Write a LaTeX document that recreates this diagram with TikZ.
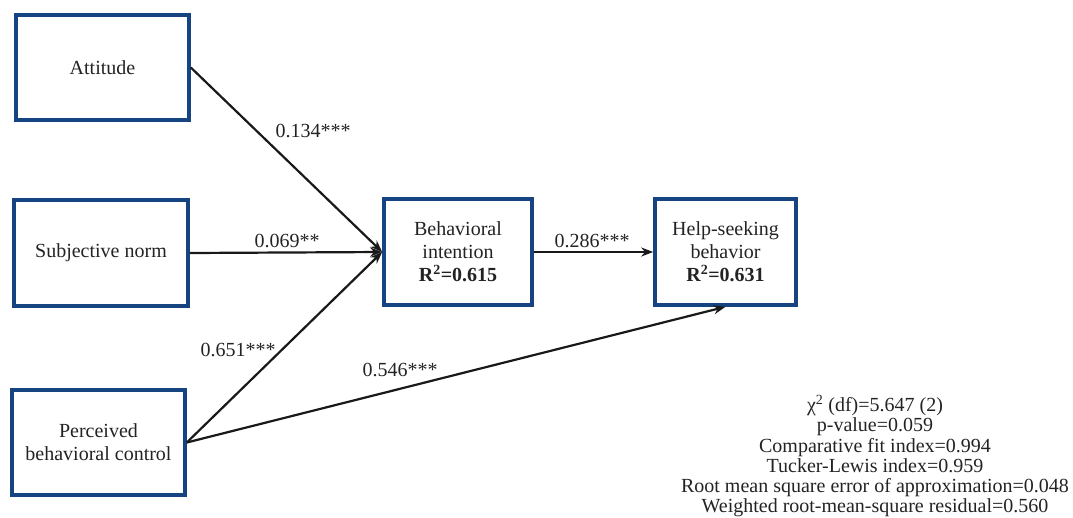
\documentclass[tikz,border=0pt]{standalone}
\usepackage{fontspec}
\setmainfont{Liberation Serif}
\usetikzlibrary{arrows.meta}
\definecolor{boxblue}{RGB}{22,68,128}
\definecolor{txt}{RGB}{35,35,35}
\begin{document}
\begin{tikzpicture}[x=1pt,y=-1pt,
  box/.style={draw=boxblue,line width=3.6pt,fill=white,align=center,inner sep=2pt,
    font=\fontsize{20}{23}\selectfont,text=txt},
  path/.style={line width=2.2pt,draw=black!90,-{Stealth[length=12pt,width=9pt]}},
  coef/.style={font=\fontsize{20}{23}\selectfont,text=txt},
  fit/.style={font=\fontsize{20}{20.2}\selectfont,text=txt,align=center}]
\useasboundingbox (0,0) rectangle (1073,517);
\node[box,minimum width=173pt,minimum height=105pt] (att) at (102.5,67.5) {Attitude};
\node[box,minimum width=174pt,minimum height=106pt] (sn) at (101,253) {Subjective norm};
\node[box,minimum width=173pt,minimum height=105pt] (pbc) at (98.5,442.5) {Perceived\\behavioral control};
\node[box,minimum width=148pt,minimum height=106pt] (bi) at (458,252) {Behavioral\\intention\\\textbf{R\textsuperscript{2}=0.615}};
\node[box,minimum width=141pt,minimum height=106pt] (hsb) at (725.5,252) {Help-seeking\\behavior\\\textbf{R\textsuperscript{2}=0.631}};
\draw[path] (att.east) -- (bi.west);
\draw[path] (sn.east) -- (bi.west);
\draw[path] (pbc.east) -- (bi.west);
\draw[path] (bi.east) -- (hsb.west);
\draw[path] (pbc.east) -- (hsb.south);
\node[coef] (c1) at (313,131) {0.134***};
\node[coef] (c2) at (287,241) {0.069**};
\node[coef] (c3) at (238,350) {0.651***};
\node[coef] (c4) at (400,370) {0.546***};
\node[coef] (c5) at (592,241) {0.286***};
\node[fit] (fitidx) at (875,456) {χ\textsuperscript{2} (df)=5.647 (2)\\p-value=0.059\\Comparative fit index=0.994\\Tucker-Lewis index=0.959\\Root mean square error of approximation=0.048\\Weighted root-mean-square residual=0.560};
\end{tikzpicture}
\end{document}
